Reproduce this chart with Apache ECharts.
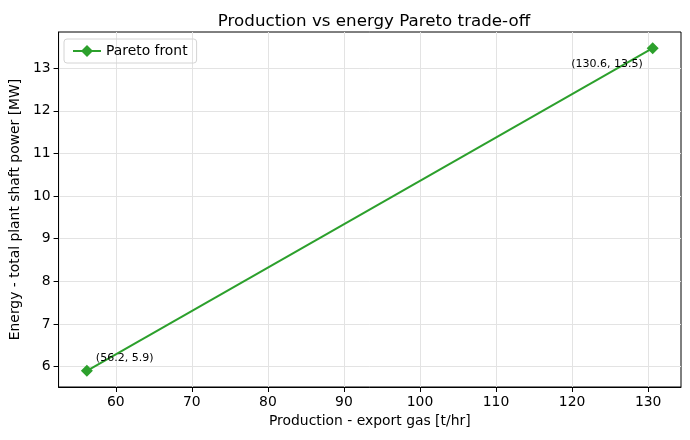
<!DOCTYPE html>
<html>
<head>
<meta charset="utf-8">
<script src="https://cdn.jsdelivr.net/npm/echarts@6/dist/echarts.min.js"></script>
<style>
  html, body { margin: 0; padding: 0; background: #fff; }
  #chart { width: 690px; height: 440px; }
</style>
</head>
<body>
<div id="chart"></div>
<script>
// Pareto front points
const production = [56.2, 130.6]
const energy = [5.9, 13.47]
const xTicks = [60, 70, 80, 90, 100, 110, 120, 130]
const yTicks = [6, 7, 8, 9, 10, 11, 12, 13]

const green = '#2ca02c'
const font = 'DejaVu Sans'

// matplotlib-like 5% margins
const xPad = (Math.max(...production) - Math.min(...production)) * 0.05
const yPad = (Math.max(...energy) - Math.min(...energy)) * 0.05

const points = production.map((x, i) => {
  const first = i === 0
  return {
    value: [x, energy[i]],
    label: {
      show: true,
      position: first ? 'right' : 'left',
      distance: first ? 3 : 4,
      offset: first ? [0, -13] : [0, 16],
      formatter: '(' + x.toFixed(1) + ', ' + energy[i].toFixed(1) + ')',
      fontFamily: font,
      fontSize: 11,
      color: '#000'
    }
  }
})

const chart = echarts.init(document.getElementById('chart'), null, { renderer: 'canvas' })

const axisCommon = {
  axisLine: { show: true, onZero: false, lineStyle: { color: '#000', width: 1 } },
  axisTick: { show: true, inside: false, length: 5, lineStyle: { color: '#000', width: 1 } },
  axisLabel: { color: '#000', fontFamily: font, fontSize: 13.9, margin: 8 },
  splitLine: { show: true, lineStyle: { color: '#e3e3e3', width: 1 } },
  nameTextStyle: { color: '#000', fontFamily: font, fontSize: 13.9 }
}

chart.setOption({
  animation: false,
  backgroundColor: '#fff',
  title: {
    text: 'Production vs energy Pareto trade-off',
    left: 369,
    top: 8,
    textAlign: 'center',
    textStyle: { color: '#000', fontFamily: font, fontSize: 16.7, fontWeight: 'normal' }
  },
  legend: {
    left: 64,
    top: 39,
    data: ['Pareto front'],
    itemWidth: 28,
    itemHeight: 15,
    padding: [5, 9, 5, 8],
    itemGap: 8,
    borderColor: '#d4d4d4',
    borderWidth: 1,
    borderRadius: 3,
    textStyle: { color: '#000', fontFamily: font, fontSize: 13.9 }
  },
  grid: {
    left: 57, right: 9, top: 32, bottom: 53,
    show: true, borderColor: '#000', borderWidth: 1,
    containLabel: false
  },
  xAxis: Object.assign({}, axisCommon, {
    type: 'value',
    min: Math.min(...production) - xPad,
    max: Math.max(...production) + xPad,
    name: 'Production - export gas [t/hr]',
    nameLocation: 'middle',
    nameGap: 27,
    axisLabel: Object.assign({}, axisCommon.axisLabel, { customValues: xTicks }),
    axisTick: Object.assign({}, axisCommon.axisTick, { customValues: xTicks })
  }),
  yAxis: Object.assign({}, axisCommon, {
    type: 'value',
    min: Math.min(...energy) - yPad,
    max: Math.max(...energy) + yPad,
    name: 'Energy - total plant shaft power [MW]',
    nameLocation: 'middle',
    nameGap: 34,
    axisLabel: Object.assign({}, axisCommon.axisLabel, { customValues: yTicks }),
    axisTick: Object.assign({}, axisCommon.axisTick, { customValues: yTicks })
  }),
  series: [{
    name: 'Pareto front',
    type: 'line',
    data: points,
    symbol: 'diamond',
    symbolSize: 12,
    itemStyle: { color: green },
    lineStyle: { color: green, width: 2 }
  }]
})
</script>
</body>
</html>
